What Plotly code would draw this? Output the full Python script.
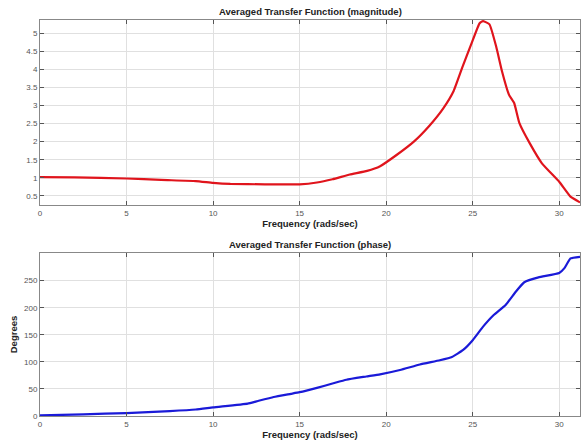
import plotly.graph_objects as go

# Magnitude data (frequency in rads/sec, magnitude)
mag_freq = [0, 2, 5, 7, 9, 10, 11, 13, 15, 16, 16.9, 17.9, 18.9, 19.65, 20.6, 21.6, 22.5, 23.3, 23.9, 24.4,
            24.9, 25.4, 25.6, 25.97, 26.36, 26.7, 27.1, 27.4, 27.7, 28.3, 29.0, 30.0, 30.65, 31.2]
mag_vals = [1.02, 1.01, 0.98, 0.94, 0.91, 0.86, 0.83, 0.82, 0.82, 0.87, 0.96, 1.09, 1.19, 1.32, 1.63, 2.0,
            2.44, 2.92, 3.40, 4.05, 4.67, 5.27, 5.33, 5.24, 4.62, 3.93, 3.29, 3.06, 2.51, 1.95, 1.40, 0.89,
            0.48, 0.32]

# Phase data (frequency in rads/sec, degrees)
ph_freq = [0, 2.5, 5, 7.5, 9, 10, 12, 12.5, 13.5, 14.5, 15, 16, 16.9, 17.7, 18.85, 19.65, 20.8, 21.95, 23.1,
           23.8, 24.45, 25.0, 25.6, 26.2, 26.9, 27.5, 27.98, 28.8, 30.0, 30.3, 30.65, 31.2]
ph_vals = [1, 3, 5.5, 9, 12, 16, 23, 27, 35, 41, 44, 52, 60, 67, 73, 77, 85, 95, 103,
           109, 122, 140, 165, 186, 205, 230, 247, 256, 264, 273, 291, 294]

x_ticks = [0, 5, 10, 15, 20, 25, 30]
mag_ticks = [0.5, 1, 1.5, 2, 2.5, 3, 3.5, 4, 4.5, 5]
ph_ticks = [0, 50, 100, 150, 200, 250]

FONT = "Liberation Sans, Arial, sans-serif"
tickfont = dict(family=FONT, size=8, color="#555555")
titlefont = dict(family=FONT, size=9.5, color="#222222")

fig = go.Figure()
fig.add_trace(go.Scatter(x=mag_freq, y=mag_vals, mode="lines",
                         line=dict(color="#e0141c", width=2.2, shape="spline", smoothing=0.4),
                         xaxis="x", yaxis="y", showlegend=False))
fig.add_trace(go.Scatter(x=ph_freq, y=ph_vals, mode="lines",
                         line=dict(color="#1a1ad8", width=2.2, shape="spline", smoothing=0.4),
                         xaxis="x2", yaxis="y2", showlegend=False))

axcommon = dict(showline=True, linecolor="#888888", linewidth=1, mirror="ticks", ticks="inside", ticklen=4,
                tickcolor="#555555", showgrid=True, gridcolor="#e0e0e0", gridwidth=1, zeroline=False,
                tickfont=tickfont)

fig.update_layout(
    width=581, height=446,
    margin=dict(l=40, r=1, t=20, b=30),
    paper_bgcolor="white", plot_bgcolor="white",
    xaxis=dict(domain=[0, 1], range=[0, 31.2], tickvals=x_ticks, anchor="y",
               title=dict(text="<b>Frequency (rads/sec)</b>", font=titlefont, standoff=1), **axcommon),
    yaxis=dict(domain=[0.533, 1], range=[0.25, 5.36], tickvals=mag_ticks, anchor="x", **axcommon),
    xaxis2=dict(domain=[0, 1], range=[0, 31.2], tickvals=x_ticks, anchor="y2",
                title=dict(text="<b>Frequency (rads/sec)</b>", font=titlefont, standoff=1), **axcommon),
    yaxis2=dict(domain=[0, 0.4116], range=[0, 301], tickvals=ph_ticks, anchor="x2",
                title=dict(text="<b>Degrees</b>", font=titlefont, standoff=4), **axcommon),
    annotations=[
        dict(text="<b>Averaged Transfer Function (magnitude)</b>", xref="x domain", yref="y domain",
             x=0.5, y=1, xanchor="center", yanchor="bottom", yshift=1, showarrow=False, font=titlefont),
        dict(text="<b>Averaged Transfer Function (phase)</b>", xref="x2 domain", yref="y2 domain",
             x=0.5, y=1, xanchor="center", yanchor="bottom", yshift=1, showarrow=False, font=titlefont),
    ],
)

fig.write_html("out.html")
